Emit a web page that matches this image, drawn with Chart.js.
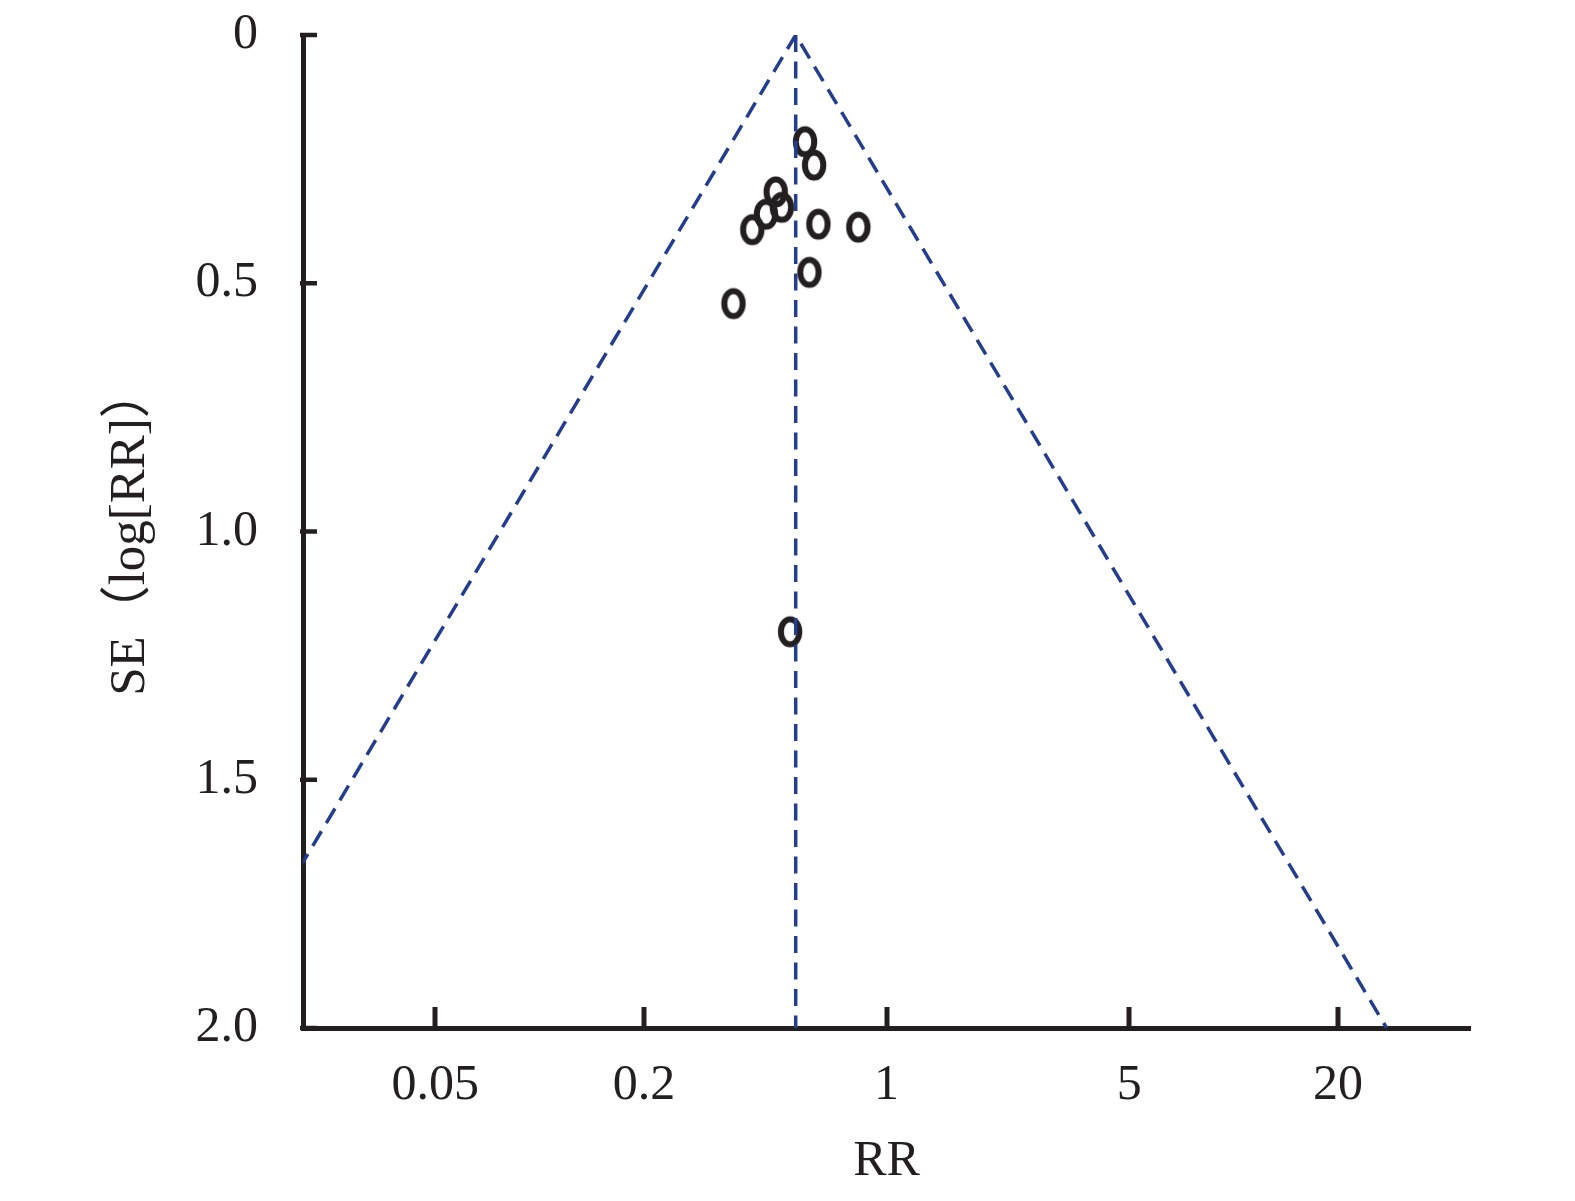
<!DOCTYPE html>
<html>
<head>
<meta charset="utf-8">
<script src="https://cdn.jsdelivr.net/npm/chart.js@4.4.1/dist/chart.umd.min.js"></script>
<style>
html,body{margin:0;padding:0;background:#fff;}
#wrap{width:1575px;height:1201px;position:relative;}
</style>
</head>
<body>
<div id="wrap"><canvas id="c" width="1575" height="1201"></canvas></div>
<script>
// Study estimates
const studyRR = [0.582, 0.618, 0.479, 0.499, 0.449, 0.410, 0.636, 0.829, 0.599, 0.362, 0.527];
const studySE = [0.215, 0.262, 0.316, 0.347, 0.361, 0.392, 0.381, 0.387, 0.478, 0.541, 1.202];
// Funnel (pseudo 95% CI) boundaries
const funnelRR = [0.0108, 0.547, 27.6];
const funnelSE = [2.0, 0, 2.0];
// Pooled estimate line
const pooledRR = [0.547, 0.547];
const pooledSE = [0, 2.0];
// Ticks
const xTicks = [0.05, 0.2, 1, 5, 20];
const xTickLabels = ['0.05', '0.2', '1', '5', '20'];
const yTicks = [0, 0.5, 1.0, 1.5, 2.0];
const yTickLabels = ['0', '0.5', '1.0', '1.5', '2.0'];

const INK = '#231f20';
const BLUE = '#243e8f';
const FONT = '"Liberation Serif", "Times New Roman", "Noto Sans CJK SC", serif';

function makeMarker() {
  const c = document.createElement('canvas');
  c.width = 32; c.height = 38;
  const g = c.getContext('2d');
  g.lineWidth = 6;
  g.strokeStyle = INK;
  g.beginPath();
  g.ellipse(16, 19, 9.2, 12.6, 0, 0, Math.PI * 2);
  g.stroke();
  return c;
}
const marker = makeMarker();

const innerTicks = {
  id: 'innerTicks',
  afterDraw(chart) {
    const ctx = chart.ctx;
    const xs = chart.scales.x, ys = chart.scales.y;
    const area = chart.chartArea;
    ctx.save();
    ctx.strokeStyle = INK;
    ctx.lineWidth = 5;
    xTicks.forEach(v => {
      const px = Math.round(xs.getPixelForValue(v));
      ctx.beginPath();
      ctx.moveTo(px, area.bottom);
      ctx.lineTo(px, area.bottom - 21);
      ctx.stroke();
    });
    ctx.lineWidth = 4.5;
    yTicks.forEach(v => {
      const py = ys.getPixelForValue(v);
      ctx.beginPath();
      ctx.moveTo(area.left - 3, py);
      ctx.lineTo(area.left + 14, py);
      ctx.stroke();
    });
    ctx.restore();
  }
};

function noPad(s) {
  s.paddingTop = 0; s.paddingBottom = 0; s.paddingLeft = 0; s.paddingRight = 0;
}

Chart.defaults.font.family = FONT;
Chart.defaults.color = INK;

new Chart(document.getElementById('c'), {
  type: 'scatter',
  data: {
    datasets: [
      {
        type: 'line',
        data: funnelRR.map((v, i) => ({x: v, y: funnelSE[i]})),
        borderColor: BLUE,
        borderWidth: 3.5,
        borderDash: [17, 9.5],
        pointRadius: 0,
        fill: false,
        tension: 0,
        order: 0
      },
      {
        type: 'line',
        data: pooledRR.map((v, i) => ({x: v, y: pooledSE[i]})),
        borderColor: BLUE,
        borderWidth: 3.5,
        borderDash: [17, 9.5],
        pointRadius: 0,
        fill: false,
        tension: 0,
        order: 0
      },
      {
        type: 'scatter',
        data: studyRR.map((v, i) => ({x: v, y: studySE[i]})),
        pointStyle: marker,
        pointRadius: 12,
        order: 1
      }
    ]
  },
  options: {
    responsive: false,
    devicePixelRatio: 1,
    animation: false,
    layout: {padding: {left: 0, right: 105, top: 35, bottom: 0}},
    plugins: {legend: {display: false}, tooltip: {enabled: false}},
    scales: {
      x: {
        type: 'logarithmic',
        min: 0.0208,
        max: 48,
        afterBuildTicks: s => { s.ticks = xTicks.map(v => ({value: v})); },
        afterFit: s => { s.height = 173; noPad(s); },
        grid: {display: false, drawTicks: false},
        border: {display: true, color: INK, width: 5},
        ticks: {
          autoSkip: false,
          maxRotation: 0,
          padding: 28,
          font: {size: 50},
          color: INK,
          callback: (v, i) => xTickLabels[i]
        },
        title: {display: true, text: 'RR', font: {size: 50}, color: INK, padding: {top: 0, bottom: 9}}
      },
      y: {
        type: 'linear',
        reverse: true,
        min: 0,
        max: 2,
        afterBuildTicks: s => { s.ticks = yTicks.map(v => ({value: v})); },
        afterFit: s => { s.width = 303; noPad(s); },
        grid: {display: false, drawTicks: false},
        border: {display: true, color: INK, width: 5},
        ticks: {
          autoSkip: false,
          padding: 45,
          font: {size: 50},
          color: INK,
          callback: (v, i) => yTickLabels[i]
        },
        title: {display: true, text: 'SE（log[RR]）', font: {size: 51}, color: INK, padding: {top: 100, bottom: 0}}
      }
    }
  },
  plugins: [innerTicks]
});
</script>
</body>
</html>
